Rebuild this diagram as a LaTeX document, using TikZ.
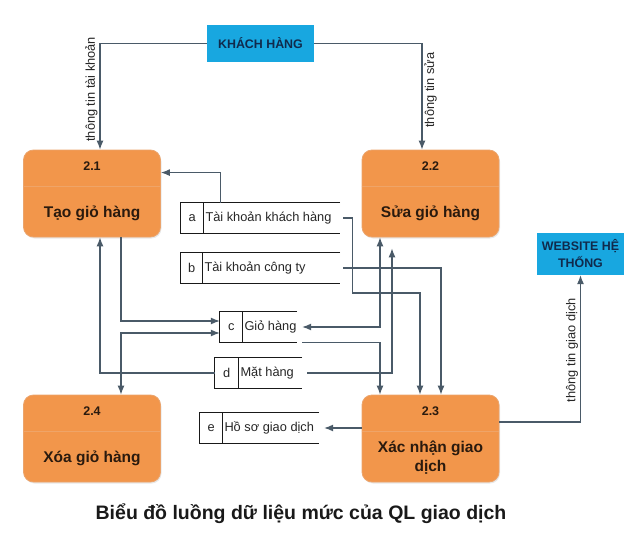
\documentclass[tikz,border=0pt]{standalone}
\usepackage{fontspec}
\setmainfont{Liberation Sans}
\usepackage{xcolor}
\usepackage{tikz}
\usetikzlibrary{arrows.meta,calc,shadows}

\definecolor{procfill}{HTML}{F2964B}
\definecolor{procedge}{HTML}{EBA46C}
\definecolor{procsep}{HTML}{EFA468}
\definecolor{proctext}{HTML}{2A1A0E}
\definecolor{extfill}{HTML}{18A7E0}
\definecolor{exttext}{HTML}{102A4C}
\definecolor{flowline}{HTML}{4A5A68}

\begin{document}
\begin{tikzpicture}[x=1pt,y=-1pt,
  >={Latex[length=9pt,width=7pt]},
  proc/.style={draw=procedge, fill=procfill, line width=0.8pt, rounded corners=10pt,
    minimum width=137pt, minimum height=87pt, inner sep=0pt,
    drop shadow={opacity=0.18, shadow xshift=1pt, shadow yshift=-1.5pt}},
  procnum/.style={text=proctext, font=\fontsize{12.5}{14}\selectfont\bfseries},
  proctitle/.style={text=proctext, align=center, font=\fontsize{15.5}{19}\selectfont\bfseries},
  ext/.style={fill=extfill, text=exttext, align=center, inner sep=0pt,
    font=\fontsize{12.4}{17}\selectfont\bfseries},
  store/.style={minimum height=30pt, inner sep=0pt},
  storeline/.style={draw=black!90, line width=1pt},
  storetxt/.style={inner sep=1.5pt, text=black!85, font=\fontsize{12.8}{15}\selectfont},
  flow/.style={draw=flowline, line width=1.1pt, ->},
  lbl/.style={rotate=90, inner sep=2pt, text=black!85, font=\fontsize{12.8}{15}\selectfont},
  caption/.style={text=black!90, font=\fontsize{19.5}{23}\selectfont\bfseries}]

\useasboundingbox (0,0) rectangle (640,543);

\node[ext, minimum width=107pt, minimum height=37pt] (kh) at (260.5,43.5) {KHÁCH HÀNG};
\node[ext, minimum width=87pt, minimum height=42pt] (web) at (580.5,254) {WEBSITE HỆ\\THỐNG};

\node[proc] (p1) at (92,193.5) {};
\node[proc] (p2) at (430.5,193.5) {};
\node[proc] (p3) at (430.5,438.5) {};
\node[proc] (p4) at (92,438.5) {};

\draw[procsep, line width=0.8pt] ($(p1.north west)+(0,37)$) -- ($(p1.north east)+(0,37)$);
\draw[procsep, line width=0.8pt] ($(p2.north west)+(0,37)$) -- ($(p2.north east)+(0,37)$);
\draw[procsep, line width=0.8pt] ($(p3.north west)+(0,37)$) -- ($(p3.north east)+(0,37)$);
\draw[procsep, line width=0.8pt] ($(p4.north west)+(0,37)$) -- ($(p4.north east)+(0,37)$);

\node[procnum] (p1-num) at ($(p1.north)+(0,17)$) {2.1};
\node[procnum] (p2-num) at ($(p2.north)+(0,17)$) {2.2};
\node[procnum] (p3-num) at ($(p3.north)+(0,17)$) {2.3};
\node[procnum] (p4-num) at ($(p4.north)+(0,17)$) {2.4};

\node[proctitle] (p1-title) at ($(p1.center)+(0,20)$) {Tạo giỏ hàng};
\node[proctitle] (p2-title) at ($(p2.center)+(0,20)$) {Sửa giỏ hàng};
\node[proctitle] (p3-title) at ($(p3.center)+(0,19)$) {Xác nhận giao\\dịch};
\node[proctitle] (p4-title) at ($(p4.center)+(0,20)$) {Xóa giỏ hàng};

\node[store, minimum width=159pt] (sa) at (260.5,218) {};
\node[store, minimum width=159pt] (sb) at (260.5,268) {};
\node[store, minimum width=77pt] (sc) at (258.5,327) {};
\node[store, minimum width=87pt] (sd) at (258.5,373) {};
\node[store, minimum width=119pt] (se) at (259.5,428) {};

\draw[storeline] (sa.north east) -- (sa.north west) -- (sa.south west) -- (sa.south east);
\draw[storeline] ($(sa.north west)+(23,0)$) -- ($(sa.south west)+(23,0)$);
\draw[storeline] (sb.north east) -- (sb.north west) -- (sb.south west) -- (sb.south east);
\draw[storeline] ($(sb.north west)+(22,0)$) -- ($(sb.south west)+(22,0)$);
\draw[storeline] (sc.north east) -- (sc.north west) -- (sc.south west) -- (sc.south east);
\draw[storeline] ($(sc.north west)+(23,0)$) -- ($(sc.south west)+(23,0)$);
\draw[storeline] (sd.north east) -- (sd.north west) -- (sd.south west) -- (sd.south east);
\draw[storeline] ($(sd.north west)+(24,0)$) -- ($(sd.south west)+(24,0)$);
\draw[storeline] (se.north east) -- (se.north west) -- (se.south west) -- (se.south east);
\draw[storeline] ($(se.north west)+(23,0)$) -- ($(se.south west)+(23,0)$);

\node[storetxt] (sa-id) at ($(sa.west)+(11.5,0)$) {a};
\node[storetxt] (sb-id) at ($(sb.west)+(11,0)$) {b};
\node[storetxt] (sc-id) at ($(sc.west)+(11.5,0)$) {c};
\node[storetxt] (sd-id) at ($(sd.west)+(12,0)$) {d};
\node[storetxt] (se-id) at ($(se.west)+(11.5,0)$) {e};

\node[storetxt, anchor=west] (sa-name) at ($(sa.west)+(23,0)$) {Tài khoản khách hàng};
\node[storetxt, anchor=west] (sb-name) at ($(sb.west)+(22,0)$) {Tài khoản công ty};
\node[storetxt, anchor=west] (sc-name) at ($(sc.west)+(23,0)$) {Giỏ hàng};
\node[storetxt, anchor=west] (sd-name) at ($(sd.west)+(24,0)$) {Mặt hàng};
\node[storetxt, anchor=west] (se-name) at ($(se.west)+(23,0)$) {Hồ sơ giao dịch};

\draw[flow] (kh.west) -| node[lbl, pos=0.716, above] {thông tin tài khoản} ($(p1.north)+(8,0)$);
\draw[flow] (kh.east) -| node[lbl, pos=0.72, below] {thông tin sửa} ($(p2.north)+(-8.5,0)$);
\draw[flow] ($(sa.north west)+(40,0)$) |- ($(p1.north east)+(0,23)$);
\draw[flow] ($(sa.east)+(3,0)$) -- ++(9,0) -- ++(0,75) -| ($(p3.north)+(-10.5,0)$);
\draw[flow] ($(sb.east)+(3,0)$) -| ($(p3.north)+(10.5,0)$);
\draw[flow] ($(p1.south)+(29,0)$) |- ($(sc.west)+(0,-6)$);
\draw[flow, <->] ($(sc.west)+(0,6)$) -| ($(p4.north)+(29,0)$);
\draw[flow] (sd.west) -| ($(p1.south)+(8,0)$);
\draw[flow, <->] ($(p2.south)+(-50.5,0)$) |- ($(sc.east)+(5,0)$);
\draw[flow] ($(sc.south east)+(5,0)$) -| ($(p3.north)+(-50.5,0)$);
\draw[flow, shorten >=11pt] ($(sd.east)+(5,0)$) -| ($(p2.south)+(-38.5,0)$);
\draw[flow] (p3.west |- se.east) -- ($(se.east)+(5,0)$);
\draw[flow] ($(p3.east)+(0,-16.5)$) -| node[lbl, pos=0.745, above] {thông tin giao dịch} (web.south);

\node[caption] (ttl) at (301,514) {Biểu đồ luồng dữ liệu mức của QL giao dịch};
\end{tikzpicture}
\end{document}
